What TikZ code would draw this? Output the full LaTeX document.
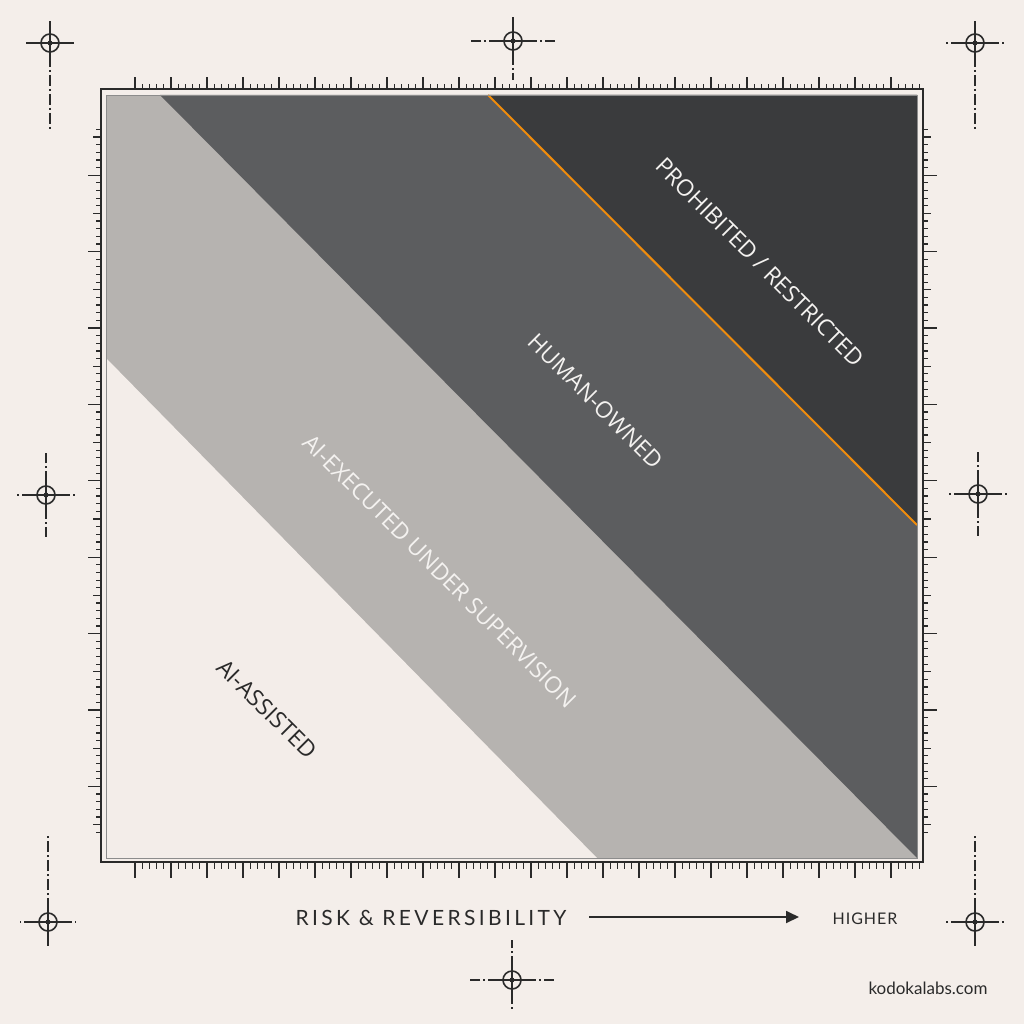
\documentclass[tikz,border=0pt]{standalone}
\usepackage{fontspec}
\setmainfont{Open Sans}
\newfontfamily\latofont{Lato}
\newfontfamily\latospaced[LetterSpace=16]{Lato}
\newfontfamily\latohigher[LetterSpace=6]{Lato}
\usetikzlibrary{arrows.meta}
\definecolor{bg}{HTML}{F4EEEA}
\definecolor{zoneA}{HTML}{F3EDE9}
\definecolor{zoneB}{HTML}{B6B3B0}
\definecolor{zoneC}{HTML}{5C5D5F}
\definecolor{zoneD}{HTML}{3A3B3D}
\definecolor{accent}{HTML}{F08C0C}
\definecolor{ink}{HTML}{2A2A2A}
\definecolor{whitetext}{HTML}{F4F2F0}
\tikzset{
  zonelabel/.style={font=\fontsize{23}{27}\selectfont, rotate=-45, inner sep=0pt, anchor=center},
  regline/.style={ink, line width=1.6pt},
  regarm/.style={ink, line width=1.6pt, dash pattern=on 11pt off 3pt on 2pt off 3pt},
  tickline/.style={ink, line width=1.2pt},
}
\newcommand\regmark[5]{%
  \draw[regline] (#1,#2) circle (9);
  \fill[ink] (#1,#2) circle (2.5);
  \draw[regline] ({#1-13},#2) -- ({#1+13},#2);
  \draw[regline] (#1,{#2-13}) -- (#1,{#2+13});
  \draw[regarm] ({#1-13},#2) -- ({#1-#3},#2);
  \draw[regarm] ({#1+13},#2) -- ({#1+#3},#2);
  \draw[regarm] (#1,{#2-13}) -- (#1,{#2-#4});
  \draw[regarm] (#1,{#2+13}) -- (#1,{#2+#5});
}
\begin{document}
\begin{tikzpicture}[x=1pt,y=-1pt]
\useasboundingbox (0,0) rectangle (1024,1024);
\fill[bg] (0,0) rectangle (1024,1024);

% zones
\fill[zoneB] (106,95) rectangle (917,858);
\fill[zoneA] (106,358) -- (597,858) -- (106,858) -- cycle;
\fill[zoneC] (160,95) -- (917,95) -- (917,858) -- cycle;
\fill[zoneD] (488,95) -- (917,95) -- (917,525) -- cycle;
\draw[accent, line width=2pt] (488,95) -- (917,525);
\draw[black!45, line width=0.8pt] (106,95) rectangle (917,858);

% outer frame
\draw[ink, line width=2pt] (101,89) rectangle (923,862);

% ticks top and bottom
\foreach \i in {0,...,109} {
  \pgfmathsetmacro\xx{135+7.2*\i}
  \pgfmathparse{mod(\i,5)==0 ? 1 : 0}
  \ifnum\pgfmathresult=1
    \draw[tickline] (\xx,89) -- (\xx,77);
    \draw[tickline] (\xx,862) -- (\xx,878);
  \else
    \draw[tickline] (\xx,89) -- (\xx,84);
    \draw[tickline] (\xx,862) -- (\xx,869);
  \fi
}
% ticks left and right
\foreach \i in {-1,...,91} {
  \pgfmathsetmacro\yy{137+7.64*\i}
  \pgfmathsetmacro\kind{mod(\i+10,10)==5 ? 2 : (mod(\i+10,5)==0 ? 1 : 0)}
  \ifdim\kind pt=2pt
    \draw[tickline] (101,\yy) -- (88,\yy);
    \draw[tickline] (923,\yy) -- (937,\yy);
  \else\ifdim\kind pt=1pt
    \draw[tickline] (101,\yy) -- (93,\yy);
    \draw[tickline] (923,\yy) -- (931,\yy);
  \else
    \draw[tickline] (101,\yy) -- (96,\yy);
    \draw[tickline] (923,\yy) -- (928,\yy);
  \fi\fi
}

% registration marks
\regmark{50}{43}{26}{22}{87}
\regmark{513}{41}{42}{25}{39}
\regmark{975}{43}{30}{22}{87}
\regmark{46}{495}{31}{42}{42}
\regmark{978}{494}{31}{42}{42}
\regmark{48}{922}{28}{87}{25}
\regmark{512}{980}{42}{40}{30}
\regmark{975}{922}{30}{87}{25}

% zone labels
\node[zonelabel, whitetext] (prohibited) at (760,262) {PROHIBITED / RESTRICTED};
\node[zonelabel, whitetext] (human) at (596,401) {HUMAN-OWNED};
\node[zonelabel, whitetext] (supervised) at (440,571) {AI-EXECUTED UNDER SUPERVISION};
\node[zonelabel, ink] (assisted) at (267,709) {AI-ASSISTED};

% axis
\node[ink, font=\latospaced\fontsize{21}{25}\selectfont, inner sep=0pt] (risk) at (431,918) {RISK \& REVERSIBILITY};
\node[ink, font=\latohigher\fontsize{16}{19}\selectfont, inner sep=0pt] (higher) at (865,918.5) {HIGHER};
\coordinate (arrowstart) at (589,917);
\coordinate (arrowend) at (799,917);
\draw[ink, line width=1.8pt, -{Triangle[length=13pt,width=12pt]}] (arrowstart) -- (arrowend);

\node[ink, font=\latofont\fontsize{17}{20}\selectfont, inner sep=0pt] (site) at (928,988) {kodokalabs.com};
\end{tikzpicture}
\end{document}
